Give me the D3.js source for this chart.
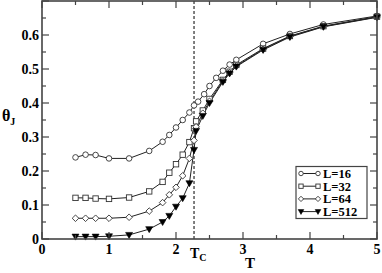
<!DOCTYPE html>
<html><head><meta charset="utf-8">
<script src="https://cdn.jsdelivr.net/npm/d3@7"></script>
<style>html,body{margin:0;padding:0;background:#fff;}svg{display:block;}</style>
</head><body>
<script>
const T16 = [0.5,0.65,0.8,1.0,1.3,1.6,1.8,1.9,2.0,2.1,2.2,2.269,2.33,2.42,2.5,2.6,2.7,2.8,2.9,3.3,3.7,4.2,5.0];
const v16 = [0.240,0.248,0.247,0.237,0.237,0.259,0.286,0.306,0.328,0.350,0.372,0.393,0.404,0.426,0.450,0.474,0.495,0.513,0.527,0.574,0.603,0.631,0.656];
const T32 = [0.5,0.65,0.8,1.0,1.3,1.6,1.8,1.9,2.0,2.1,2.2,2.269,2.3,2.4,2.5,2.7,2.8,2.9,3.3,3.7,4.2,5.0];
const v32 = [0.121,0.121,0.119,0.118,0.122,0.140,0.168,0.195,0.220,0.248,0.285,0.326,0.346,0.378,0.412,0.468,0.492,0.512,0.560,0.597,0.626,0.654];
const T64 = [0.5,0.65,0.8,1.0,1.3,1.6,1.8,1.9,2.0,2.1,2.2,2.269,2.3,2.4,2.5,2.7,2.8,2.9,3.3,3.7,4.2,5.0];
const v64 = [0.061,0.061,0.061,0.061,0.064,0.082,0.107,0.130,0.152,0.186,0.237,0.290,0.330,0.370,0.405,0.465,0.489,0.509,0.558,0.596,0.625,0.653];
const T512 = [0.5,0.65,0.8,1.0,1.3,1.6,1.8,1.9,2.0,2.1,2.2,2.269,2.3,2.4,2.5,2.7,2.8,2.9,3.3,3.7,4.2,5.0];
const v512 = [0.007,0.007,0.007,0.008,0.012,0.029,0.050,0.068,0.095,0.120,0.164,0.262,0.318,0.362,0.400,0.462,0.487,0.507,0.556,0.594,0.624,0.652];
const seriesNames = ["L=16","L=32","L=64","L=512"];
const seriesSymbols = ["circle","square","diamond","triangle"];
const xTicks = [0,1,2,3,4,5];
const yTicks = [0,0.1,0.2,0.3,0.4,0.5,0.6];
const xTickLabels = ["0","1","2","3","4","5"];
const yTickLabels = ["0","0.1","0.2","0.3","0.4","0.5","0.6"];
const Tc = 2.269;

const W = 382, H = 273;
const m = {left:42, right:5, top:1, bottom:34};
const svg = d3.select("body").append("svg").attr("width",W).attr("height",H);
const x = d3.scaleLinear().domain([0,5]).range([m.left, W-m.right]);
const y = d3.scaleLinear().domain([0,0.7]).range([H-m.bottom, m.top]);
const font = "'Liberation Serif','Times New Roman',serif";
const frameColor = "#444";

const series = [
  {name:seriesNames[0], sym:seriesSymbols[0], T:T16, v:v16},
  {name:seriesNames[1], sym:seriesSymbols[1], T:T32, v:v32},
  {name:seriesNames[2], sym:seriesSymbols[2], T:T64, v:v64},
  {name:seriesNames[3], sym:seriesSymbols[3], T:T512, v:v512}
];

// dashed Tc line
svg.append("line").attr("x1",x(Tc)).attr("x2",x(Tc)).attr("y1",y(0.7)).attr("y2",y(0))
  .attr("stroke","#000").attr("stroke-width",1).attr("stroke-dasharray","3,2");

function drawSym(g, sym, cx, cy, k){
  k = k || 1;
  if(sym==="circle"){
    g.append("circle").attr("cx",cx).attr("cy",cy).attr("r",2.8*k).attr("fill","#fff").attr("stroke","#333").attr("stroke-width",0.9);
  } else if(sym==="square"){
    const a=2.7*k;
    g.append("rect").attr("x",cx-a).attr("y",cy-a).attr("width",2*a).attr("height",2*a).attr("fill","#fff").attr("stroke","#333").attr("stroke-width",0.9);
  } else if(sym==="diamond"){
    const a=3.3*k;
    g.append("path").attr("d",`M${cx},${cy-a}L${cx+a},${cy}L${cx},${cy+a}L${cx-a},${cy}Z`).attr("fill","#fff").attr("stroke","#333").attr("stroke-width",0.9);
  } else {
    const a=3.5*k, b=2.5*k;
    g.append("path").attr("d",`M${cx-a},${cy-b}L${cx+a},${cy-b}L${cx},${cy+a}Z`).attr("fill","#000").attr("stroke","#000").attr("stroke-width",0.6);
  }
}

const line = d3.line().x(d=>x(d[0])).y(d=>y(d[1]));
series.forEach(s=>{
  const pts = s.T.map((t,i)=>[t,s.v[i]]);
  svg.append("path").datum(pts).attr("d",line).attr("fill","none").attr("stroke","#222").attr("stroke-width",1);
});
series.forEach(s=>{
  const g = svg.append("g");
  s.T.forEach((t,i)=>drawSym(g, s.sym, x(t), y(s.v[i])));
});

// frame
const x0=x(0), x1=x(5), y0=y(0), y1=y(0.7);
svg.append("rect").attr("x",x0).attr("y",y1).attr("width",x1-x0).attr("height",y0-y1)
  .attr("fill","none").attr("stroke",frameColor).attr("stroke-width",1.6);

// ticks inward on all sides
const tg = svg.append("g").attr("stroke",frameColor).attr("stroke-width",1.2);
d3.range(0,5.01,0.5).forEach(t=>{
  const major = Math.abs(t-Math.round(t))<1e-6;
  const L = major?7:4;
  tg.append("line").attr("x1",x(t)).attr("x2",x(t)).attr("y1",y0).attr("y2",y0-L);
  tg.append("line").attr("x1",x(t)).attr("x2",x(t)).attr("y1",y1).attr("y2",y1+L);
});
d3.range(0,0.701,0.05).forEach(v=>{
  const major = Math.abs(v*10-Math.round(v*10))<1e-6;
  const L = major?7:4;
  tg.append("line").attr("x1",x0).attr("x2",x0+L).attr("y1",y(v)).attr("y2",y(v));
  tg.append("line").attr("x1",x1).attr("x2",x1-L).attr("y1",y(v)).attr("y2",y(v));
});

// tick labels
xTicks.forEach((t,i)=>{
  svg.append("text").attr("x",x(t)).attr("y",y0+15).attr("text-anchor","middle")
    .attr("font-family",font).attr("font-weight","bold").attr("font-size",14).text(xTickLabels[i]);
});
yTicks.forEach((v,i)=>{
  svg.append("text").attr("x",x0-3).attr("y",y(v)+4.8).attr("text-anchor","end")
    .attr("font-family",font).attr("font-weight","bold").attr("font-size",14).text(yTickLabels[i]);
});

// axis titles
const yt = svg.append("text").attr("x",2).attr("y",121).attr("font-family",font).attr("font-weight","bold").attr("font-size",16);
yt.append("tspan").text("θ");
yt.append("tspan").attr("font-size",10).attr("dy",4).text("J");
svg.append("text").attr("x",250).attr("y",268).attr("text-anchor","middle").attr("font-family",font).attr("font-weight","bold").attr("font-size",15).text("T");
const tc = svg.append("text").attr("x",190).attr("y",258).attr("font-family",font).attr("font-weight","bold").attr("font-size",14);
tc.append("tspan").text("T");
tc.append("tspan").attr("font-size",10).attr("dy",3).text("C");

// legend
const lg = svg.append("g");
lg.append("rect").attr("x",296).attr("y",166.5).attr("width",71).attr("height",52)
  .attr("fill","#fff").attr("stroke",frameColor).attr("stroke-width",1.2);
series.forEach((s,i)=>{
  const ly = 173.5 + i*12.7;
  lg.append("line").attr("x1",301).attr("x2",318).attr("y1",ly).attr("y2",ly).attr("stroke","#222").attr("stroke-width",1);
  drawSym(lg, s.sym, 301, ly, 0.8);
  drawSym(lg, s.sym, 318, ly, 0.8);
  lg.append("text").attr("x",323).attr("y",ly+4.3).attr("font-family",font).attr("font-weight","bold").attr("font-size",12.5).text(s.name);
});
</script>
</body></html>
